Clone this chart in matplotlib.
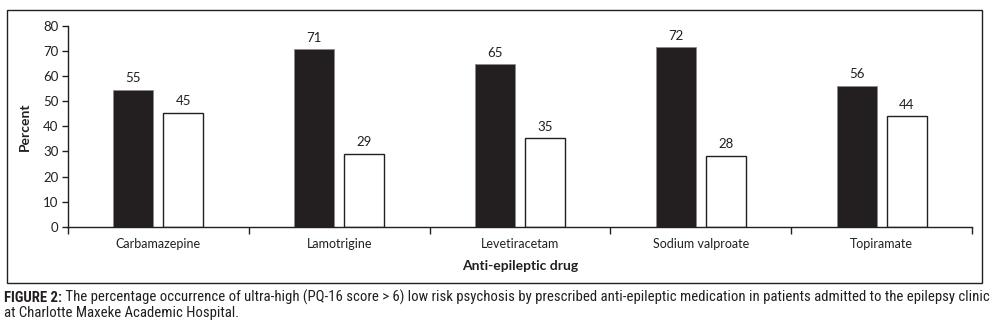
import matplotlib
matplotlib.use("Agg")
import matplotlib.pyplot as plt
from matplotlib.patches import Rectangle
from matplotlib import font_manager as fm
import numpy as np

categories = ["Carbamazepine", "Lamotrigine", "Levetiracetam", "Sodium valproate", "Topiramate"]
high_values = [54.5, 70.8, 64.8, 71.6, 56.2]
low_values = [45.5, 29.0, 35.2, 28.2, 44.0]
high_labels = ["55", "71", "65", "72", "56"]
low_labels = ["45", "29", "35", "28", "44"]
yticks = [0, 10, 20, 30, 40, 50, 60, 70, 80]

TXT = "#231f20"
plt.rcParams['font.family'] = ['Lato', 'DejaVu Sans']

W, H = 990, 336
fig = plt.figure(figsize=(W / 100, H / 100), dpi=100)

# outer frame
fig.patches.append(Rectangle((7 / W, 1 - 283 / H), (982 - 7) / W, (283 - 10) / H,
                             transform=fig.transFigure, fill=False, edgecolor=TXT, lw=1.0))

ax = fig.add_axes([68 / W, 1 - 226.7 / H, (972 - 68) / W, (226.7 - 26) / H])
n = len(categories)
x = np.arange(n) + 0.5
bw = 40 / 180.8
gap = 5 / 180.8
ax.bar(x - gap - bw / 2, high_values, width=bw, color=TXT, edgecolor="#8a8a8a", lw=0.6)
ax.bar(x + gap + bw / 2, low_values, width=bw, color="white", edgecolor=TXT, lw=1.0)
for xi, v, l in zip(x - gap - bw / 2, high_values, high_labels):
    ax.annotate(l, (xi, v), xytext=(0, 4), textcoords="offset points", ha="center", va="bottom",
                fontsize=9.5, color=TXT)
for xi, v, l in zip(x + gap + bw / 2, low_values, low_labels):
    ax.annotate(l, (xi, v), xytext=(0, 4), textcoords="offset points", ha="center", va="bottom",
                fontsize=9.5, color=TXT)

ax.set_xlim(0, n)
ax.set_ylim(0, 80)
ax.set_yticks(yticks)
ax.set_yticklabels([str(t) for t in yticks], fontsize=9.5, color=TXT)
ax.set_xticks(np.arange(n + 1))
ax.set_xticklabels([])
ax.set_xticks(x, minor=True)
ax.set_xticklabels(categories, minor=True, fontsize=9, color=TXT)
ax.tick_params(axis="x", which="minor", length=0, pad=8)
ax.tick_params(axis="x", which="major", length=5, width=1, color=TXT, direction="out")
ax.tick_params(axis="y", length=4, width=1, color=TXT, direction="out", pad=3)
for s in ["top", "right"]:
    ax.spines[s].set_visible(False)
for s in ["left", "bottom"]:
    ax.spines[s].set_color(TXT)
    ax.spines[s].set_linewidth(1.0)
ax.set_ylabel("Percent", fontsize=10, fontweight="bold", color=TXT, labelpad=9)
ax.set_xlabel("Anti-epileptic drug", fontsize=10, fontweight="bold", color=TXT, labelpad=7)

# caption (condensed face if available)
names = {f.name for f in fm.fontManager.ttflist}
cond = [f for f in fm.fontManager.ttflist if "Condensed" in f.fname or "Narrow" in f.fname]
fam = ['DejaVu Sans']
stretch = "condensed"
for cand in ['Liberation Sans Narrow', 'Roboto Condensed', 'Open Sans Condensed']:
    if cand in names:
        fam = [cand]
        stretch = "normal"
        break

cap1b = "FIGURE 2:"
cap1 = " The percentage occurrence of ultra-high (PQ-16 score > 6) low risk psychosis by prescribed anti-epileptic medication in patients admitted to the epilepsy clinic"
cap2 = "at Charlotte Maxeke Academic Hospital."
fs = 8.5
kw = dict(family=fam, fontstretch=stretch, color=TXT, va="center")
t1 = fig.text(4 / W, 1 - 297.5 / H, cap1b, fontsize=fs, fontweight="bold", **kw)
fig.canvas.draw()
r = fig.canvas.get_renderer()
bb = t1.get_window_extent(r)
t2 = fig.text(bb.x1 / W, 1 - 297.5 / H, cap1, fontsize=fs, **kw)
fig.canvas.draw()
total = t2.get_window_extent(r).x1 - 4
scale = 981 / total
fs2 = fs * scale
t1.set_fontsize(fs2)
fig.canvas.draw()
bb = t1.get_window_extent(r)
t2.set_x(bb.x1 / W)
t2.set_fontsize(fs2)
fig.text(4 / W, 1 - 313 / H, cap2, fontsize=fs2, **kw)

fig.savefig("out.png", dpi=100)
